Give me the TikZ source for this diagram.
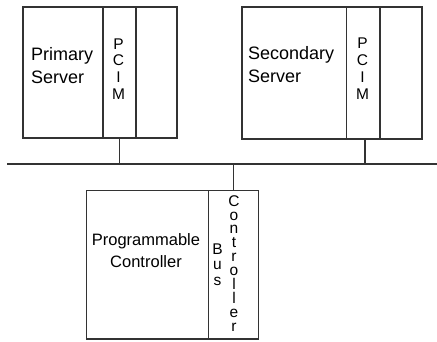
\documentclass[tikz,border=0pt]{standalone}
\usepackage{fontspec}
\setmainfont{Liberation Sans}
\definecolor{wire}{HTML}{333333}

\begin{document}
\begin{tikzpicture}[x=1pt,y=-1pt,
  box/.style={draw=wire,line width=1.7pt,rectangle,inner sep=0pt,anchor=north west},
  link/.style={draw=wire,line width=1.7pt},
  lbl/.style={inner sep=0pt,align=left,anchor=west,font=\fontsize{18}{23}\selectfont},
  stack/.style={inner sep=0pt,align=center,font=\fontsize{15.5}{#1}\selectfont}]
\useasboundingbox (0,0) rectangle (437,341);
% primary server
\node[box,minimum width=80pt,minimum height=131pt] (srvA) at (22,6) {};
\node[box,minimum width=33pt,minimum height=131pt] (pcimA) at (102,6) {};
\node[box,minimum width=41pt,minimum height=131pt] (slotA) at (135,6) {};
\node[lbl] (txtA) at (31,65.3) {Primary\\Server};
\node[stack=16.7] (lettA) at (118.5,69) {P\\C\\I\\M};
% secondary server
\node[box,minimum width=104.7pt,minimum height=132pt] (srvB) at (241,6) {};
\node[box,minimum width=33.6pt,minimum height=132pt] (pcimB) at (345.7,6) {};
\node[box,minimum width=41.7pt,minimum height=132pt] (slotB) at (379.3,6) {};
\node[lbl] (txtB) at (248,65) {Secondary\\Server};
\node[stack=16.7] (lettB) at (362.5,68.7) {P\\C\\I\\M};
% programmable controller
\node[box,minimum width=121.8pt,minimum height=148.5pt] (plc) at (85.7,189.5) {};
\node[box,minimum width=50.2pt,minimum height=148.5pt] (bctl) at (207.5,189.5) {};
\node[inner sep=0pt,align=center,font=\fontsize{16.5}{21.7}\selectfont] (txtC) at (146,250.3) {Programmable\\Controller};
\node[stack=15.5] (lettBus) at (217.5,264.7) {B\\u\\s};
\node[stack=13.9] (lettCtl) at (234,263.3) {C\\o\\n\\t\\r\\o\\l\\l\\e\\r};
% bus
\coordinate (busL) at (7,164);
\coordinate (busR) at (437,164);
\draw[link] (busL) -- (busR);
\draw[link] (pcimA.south) -- (pcimA.south |- busL);
\draw[link] ([xshift=1.8pt]pcimB.south) -- ([xshift=1.8pt]pcimB.south |- busL);
\draw[link] (bctl.north) -- (bctl.north |- busL);
\end{tikzpicture}
\end{document}
